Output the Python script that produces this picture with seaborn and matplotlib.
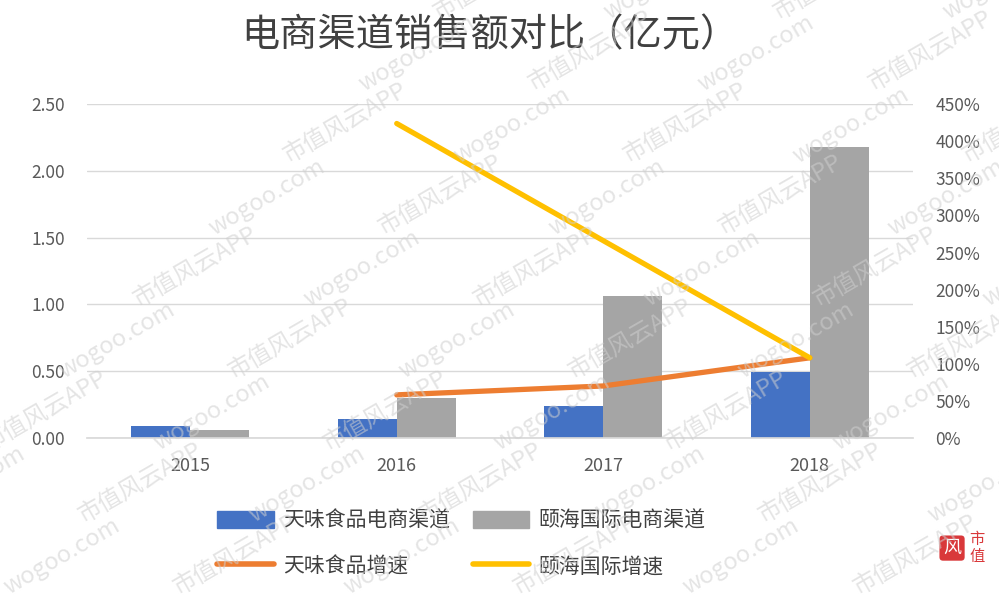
import matplotlib
matplotlib.use('Agg')
import pandas as pd
import matplotlib.pyplot as plt
import seaborn as sns
from matplotlib.ticker import MultipleLocator, PercentFormatter, FuncFormatter
from matplotlib.patches import Patch
from matplotlib.lines import Line2D

# 数据（亿元 / 增速）
years = [2015, 2016, 2017, 2018]
tianwei_sales = [0.09, 0.14, 0.24, 0.49]
yihai_sales = [0.06, 0.30, 1.06, 2.18]
growth_years = [2016, 2017, 2018]
tianwei_growth = [0.58, 0.70, 1.08]
yihai_growth = [4.24, 2.66, 1.08]

bar_names = ['天味食品电商渠道', '颐海国际电商渠道']
line_names = ['天味食品增速', '颐海国际增速']

blue, gray, orange, yellow = '#4472C4', '#A5A5A5', '#ED7D31', '#FFC000'

sns.set_theme(style='white')
plt.rcParams['font.family'] = ['Noto Sans CJK SC', 'DejaVu Sans']

bars = pd.DataFrame({
    '年份': years * 2,
    '销售额': tianwei_sales + yihai_sales,
    '渠道': [bar_names[0]] * len(years) + [bar_names[1]] * len(years),
})
lines = pd.DataFrame({
    '年份': growth_years * 2,
    '增速': tianwei_growth + yihai_growth,
    '公司': [line_names[0]] * len(growth_years) + [line_names[1]] * len(growth_years),
})

fig = plt.figure(figsize=(9.99, 5.99), dpi=100)
ax = fig.add_axes([0.087, 0.269, 0.827, 0.557])

sns.barplot(data=bars, x='年份', y='销售额', hue='渠道', palette=[blue, gray],
            native_scale=True, width=0.57, saturation=1, legend=False,
            linewidth=0, ax=ax)

ax2 = ax.twinx()
sns.lineplot(data=lines, x='年份', y='增速', hue='公司', palette=[orange, yellow],
             lw=3.8, legend=False, ax=ax2, solid_capstyle='round')

# 左轴
ax.set_xlim(2014.5, 2018.5)
ax.set_xticks(years)
ax.set_xticklabels([str(y) for y in years])
ax.set_ylim(0, 2.5)
ax.yaxis.set_major_locator(MultipleLocator(0.5))
ax.yaxis.set_major_formatter(FuncFormatter(lambda v, p: f'{v:.2f}'))
ax.yaxis.grid(True, color='#d9d9d9', lw=1)
ax.set_axisbelow(True)
ax.set_xlabel('')
ax.set_ylabel('')
for s in ['top', 'left', 'right']:
    ax.spines[s].set_visible(False)
ax.spines['bottom'].set_color('#d9d9d9')
ax.tick_params(axis='y', length=0, pad=16, labelsize=12.5, labelcolor='#595959')
ax.tick_params(axis='x', length=0, pad=14, labelsize=13, labelcolor='#595959')

# 右轴
ax2.set_ylim(0, 4.5)
ax2.yaxis.set_major_locator(MultipleLocator(0.5))
ax2.yaxis.set_major_formatter(PercentFormatter(1.0, decimals=0))
ax2.set_ylabel('')
for s in ax2.spines.values():
    s.set_visible(False)
ax2.tick_params(axis='y', length=0, pad=16, labelsize=12.5, labelcolor='#595959')

fig.text(0.49, 1 - 36 / 599, '电商渠道销售额对比（亿元）', ha='center', va='center',
         fontsize=27.5, color='#404040')

handles = [Patch(color=blue), Line2D([], [], color=orange, lw=4, solid_capstyle='round'),
           Patch(color=gray), Line2D([], [], color=yellow, lw=4, solid_capstyle='round')]
labels = [bar_names[0], line_names[0], bar_names[1], line_names[1]]
fig.legend(handles, labels, ncol=2, loc='center', bbox_to_anchor=(0.462, 0.093),
           frameon=False, fontsize=15, handlelength=2.7, handleheight=0.87,
           labelspacing=1.15, columnspacing=1.1, handletextpad=0.45, labelcolor='#404040')

# 水印（斜向重复）
marks = ['wogoo.com', '市值风云APP']
for r in range(-2, 9):
    for c in range(-1, 7):
        x = c * 0.17 + r * 0.075
        y = r * 0.12 + c * 0.0
        if x < -0.12 or x > 1.0 or y < -0.1 or y > 1.0:
            continue
        fig.text(x, y, marks[(r + c) % 2], rotation=30, fontsize=17,
                 color='#cfcfcf', alpha=0.55, ha='left', va='bottom', zorder=10)

# 角标
fig.text(0.953, 0.085, '风', fontsize=13, color='white', ha='center', va='center',
         bbox=dict(boxstyle='round,pad=0.2', fc='#d9383a', ec='none'))
fig.text(0.978, 0.085, '市\n值', fontsize=11, color='#d9383a', ha='center', va='center',
         linespacing=1.0)

fig.savefig('out.png', dpi=100)
